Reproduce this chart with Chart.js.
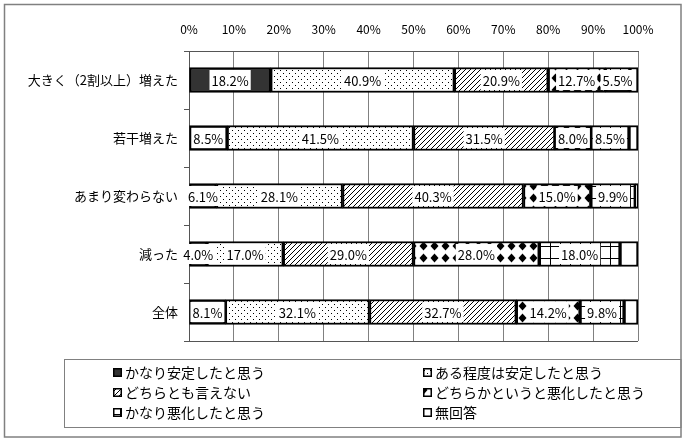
<!DOCTYPE html>
<html><head><meta charset="utf-8">
<script src="https://cdn.jsdelivr.net/npm/chart.js@4/dist/chart.umd.min.js"></script>
<style>html,body{margin:0;padding:0;background:#fff}#wrap{width:686px;height:443px;position:relative}</style>
</head><body><div id="wrap"><canvas id="c" width="686" height="443"></canvas></div>
<script>
const categories = ['大きく（2割以上）増えた','若干増えた','あまり変わらない','減った','全体'];
const seriesNames = ['かなり安定したと思う','ある程度は安定したと思う','どちらとも言えない','どちらかというと悪化したと思う','かなり悪化したと思う','無回答'];
const vMuchStable   = [18.2, 8.5, 6.1, 4.0, 8.1];
const vSomeStable   = [40.9, 41.5, 28.1, 17.0, 32.1];
const vNeither      = [20.9, 31.5, 40.3, 29.0, 32.7];
const vRatherWorse  = [12.7, 8.0, 15.0, 28.0, 14.2];
const vMuchWorse    = [5.5, 8.5, 9.9, 18.0, 9.8];
const vNoAnswer     = [1.8, 2.0, 0.6, 4.0, 3.1];
const xTickValues   = [0,10,20,30,40,50,60,70,80,90,100];
const labeledSeries = [true, true, true, true, true, false];

const FONT = '"Noto Sans CJK JP", "Noto Sans", sans-serif';

function tile(w, h, draw){
  const c = document.createElement('canvas');
  c.width = w; c.height = h;
  const g = c.getContext('2d');
  g.fillStyle = '#fff'; g.fillRect(0,0,w,h);
  draw(g);
  return g.createPattern(c, 'repeat');
}
const pDots = tile(6, 6, g => { g.fillStyle='#000'; g.fillRect(1,1,1,1); g.fillRect(4,4,1,1); });
const pHatch = tile(5, 5, g => {
  g.strokeStyle='#000'; g.lineWidth=1;
  g.beginPath(); g.moveTo(-1,6); g.lineTo(6,-1); g.stroke();
  g.beginPath(); g.moveTo(-1,1); g.lineTo(1,-1); g.stroke();
  g.beginPath(); g.moveTo(4,6); g.lineTo(6,4); g.stroke();
});
const pDiamond = tile(11, 12, g => {
  g.fillStyle='#000'; g.beginPath();
  g.moveTo(5.5,1.5); g.lineTo(9.5,6); g.lineTo(5.5,10.5); g.lineTo(1.5,6); g.closePath(); g.fill();
});
const pGrid = tile(10, 12, g => { g.fillStyle='#000'; g.fillRect(0,0,1,12); g.fillRect(0,6,10,1); });

const fills = ['#333333', pDots, pHatch, pDiamond, pGrid, '#ffffff'];
const values = [vMuchStable, vSomeStable, vNeither, vRatherWorse, vMuchWorse, vNoAnswer];

const datasets = seriesNames.map((n,i) => ({
  label: n,
  data: values[i],
  backgroundColor: fills[i],
  borderColor: '#000',
  borderWidth: 2,
  borderSkipped: false,
  barThickness: 25,
  showLabel: labeledSeries[i]
}));

const framePlugin = {
  id: 'frame',
  beforeDraw(chart){
    const ctx = chart.ctx;
    ctx.save(); ctx.fillStyle = '#fff'; ctx.fillRect(0,0,chart.width,chart.height); ctx.restore();
  },
  afterDraw(chart){
    const ctx = chart.ctx; const a = chart.chartArea;
    ctx.save();
    ctx.strokeStyle = '#555'; ctx.lineWidth = 1;
    ctx.beginPath(); ctx.moveTo(a.left, a.bottom+0.5); ctx.lineTo(a.right, a.bottom+0.5); ctx.stroke();
    ctx.strokeStyle = '#808080'; ctx.lineWidth = 1.5;
    ctx.strokeRect(4.5, 4.5, 676.5, 432.5);
    ctx.lineWidth = 1;
    ctx.strokeRect(64.5, 359.5, 616.5, 68);
    const colX = [113, 423], rowY = [373, 393, 413];
    ctx.font = '14px ' + FONT; ctx.textBaseline = 'middle'; ctx.textAlign = 'left';
    chart.data.datasets.forEach((ds, i) => {
      const x = colX[i % 2], y = rowY[Math.floor(i / 2)];
      ctx.fillStyle = ds.backgroundColor;
      ctx.fillRect(x, y - 5, 9, 9);
      ctx.strokeStyle = '#000'; ctx.lineWidth = 1.5;
      ctx.strokeRect(x + 0.75, y - 4.25, 7.5, 7.5);
      ctx.fillStyle = '#000';
      ctx.fillText(ds.label, x + 12, y);
    });
    ctx.restore();
  }
};

const labelPlugin = {
  id: 'segLabels',
  afterDatasetsDraw(chart){
    const ctx = chart.ctx;
    ctx.save();
    ctx.font = '13px ' + FONT;
    ctx.textAlign = 'center'; ctx.textBaseline = 'middle';
    chart.data.datasets.forEach((ds, i) => {
      if (!ds.showLabel) return;
      const meta = chart.getDatasetMeta(i);
      meta.data.forEach((el, j) => {
        const t = ds.data[j].toFixed(1) + '%';
        const cx = (el.x + el.base) / 2;
        const w = ctx.measureText(t).width;
        ctx.fillStyle = '#fff';
        ctx.fillRect(cx - w/2 - 2, el.y - 10, w + 4, 20);
        ctx.fillStyle = '#000';
        ctx.fillText(t, cx, el.y + 1);
      });
    });
    ctx.restore();
  }
};

new Chart(document.getElementById('c'), {
  type: 'bar',
  data: { labels: categories, datasets },
  options: {
    indexAxis: 'y',
    responsive: false,
    animation: false,
    devicePixelRatio: 1,
    layout: { padding: { left: 0, top: 0, right: 48, bottom: 102 } },
    plugins: { legend: { display: false }, tooltip: { enabled: false } },
    scales: {
      x: {
        position: 'top', stacked: true, min: 0, max: 100,
        afterBuildTicks(s){ s.ticks = xTickValues.map(v => ({ value: v })); },
        afterFit(s){ s.height = 51; },
        ticks: { callback: v => v + '%', color: '#000', padding: 14, font: { family: FONT, size: 12 } },
        grid: { color: '#808080', lineWidth: 1, drawTicks: false },
        border: { display: true, color: '#555' }
      },
      y: {
        stacked: true,
        afterFit(s){ s.width = 189; },
        ticks: { color: '#000', padding: 6, font: { family: FONT, size: 13 } },
        grid: { drawOnChartArea: false, drawTicks: true, tickLength: 5, color: '#555', offset: true },
        border: { display: true, color: '#555' }
      }
    }
  },
  plugins: [framePlugin, labelPlugin]
});
</script>
</body></html>
